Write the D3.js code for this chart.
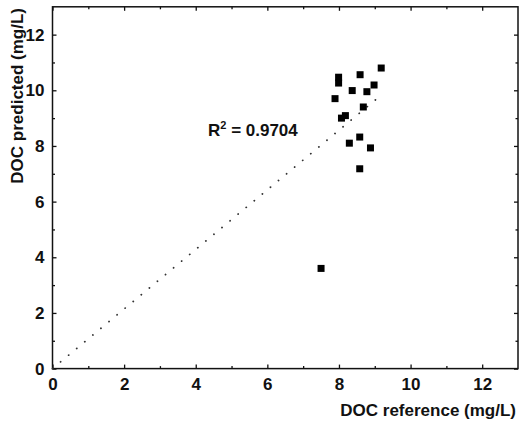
<!DOCTYPE html>
<html>
<head>
<meta charset="utf-8">
<script src="https://cdn.jsdelivr.net/npm/d3@7"></script>
<style>
  html, body { margin: 0; padding: 0; background: #fff; }
  text { font-family: Arial, "Liberation Sans", sans-serif; font-weight: bold; fill: #111; }
</style>
</head>
<body>
<svg id="chart" width="520" height="423"></svg>
<script>
// Measured vs predicted DOC (mg/L)
const docReference = [9.18, 8.59, 7.99, 7.99, 8.37, 8.78, 8.98, 7.89, 8.68, 8.18, 8.07, 8.58, 8.29, 8.88, 8.58, 7.50];
const docPredicted = [10.80, 10.56, 10.47, 10.26, 9.99, 9.95, 10.19, 9.70, 9.40, 9.09, 9.00, 8.32, 8.10, 7.93, 7.18, 3.60];
// Fitted trend line end points (x, y)
const fitX = [0, 9.06];
const fitY = [0, 9.70];
const majorTicks = [0, 2, 4, 6, 8, 10, 12];
const minorTicks = [1, 3, 5, 7, 9, 11];
const r2Label = "0.9704";

const svg = d3.select("#chart");
const plotLeft = 52.5, plotRight = 518, plotTop = 6.8, plotBottom = 368.6;

const x = d3.scaleLinear().domain([0, 13]).range([plotLeft, plotRight]);
const y = d3.scaleLinear().domain([0, 13]).range([plotBottom, plotTop]);

const g = svg.append("g");

// Axes: major ticks labelled, all ticks pointing inward
function styleAxis(sel) {
  sel.select(".domain").remove();
  sel.selectAll("line").attr("stroke", "#111").attr("stroke-width", 1.3);
  sel.selectAll("text").attr("font-size", 17).attr("font-weight", "bold")
     .attr("font-family", "Arial, 'Liberation Sans', sans-serif").attr("fill", "#111");
}

function addAxis(axisFn, scale, pos, ticks, size, labelled) {
  const isX = (axisFn === d3.axisBottom || axisFn === d3.axisTop);
  const ax = axisFn(scale).tickValues(ticks).tickSizeInner(-size).tickSizeOuter(0);
  if (labelled) ax.tickPadding(isX ? 9 : 8).tickFormat(d3.format("d"));
  else ax.tickFormat("");
  const sel = g.append("g")
    .attr("transform", isX ? `translate(0,${pos})` : `translate(${pos},0)`)
    .call(ax);
  styleAxis(sel);
}

addAxis(d3.axisBottom, x, plotBottom, majorTicks, 4, true);
addAxis(d3.axisBottom, x, plotBottom, minorTicks, 2.5, false);
addAxis(d3.axisLeft, y, plotLeft, majorTicks, 4, true);
addAxis(d3.axisLeft, y, plotLeft, minorTicks, 2.5, false);
addAxis(d3.axisTop, x, plotTop, majorTicks, 4, false);
addAxis(d3.axisTop, x, plotTop, minorTicks, 2.5, false);
addAxis(d3.axisRight, y, plotRight, majorTicks, 4, false);
addAxis(d3.axisRight, y, plotRight, minorTicks, 2.5, false);

// Plot frame
g.append("rect")
  .attr("x", plotLeft).attr("y", plotTop)
  .attr("width", plotRight - plotLeft).attr("height", plotBottom - plotTop)
  .attr("fill", "none").attr("stroke", "#111").attr("stroke-width", 1.5);

// Dotted fit line
g.append("line")
  .attr("x1", x(fitX[0])).attr("y1", y(fitY[0]))
  .attr("x2", x(fitX[1])).attr("y2", y(fitY[1]))
  .attr("stroke", "#333").attr("stroke-width", 1.8)
  .attr("stroke-linecap", "round")
  .attr("stroke-dasharray", "0.1,10.4");

// Data points
const pts = docReference.map((d, i) => ({ x: d, y: docPredicted[i] }));
const s = 7;
g.selectAll("rect.pt").data(pts).enter().append("rect")
  .attr("class", "pt")
  .attr("x", d => x(d.x) - s / 2).attr("y", d => y(d.y) - s / 2)
  .attr("width", s).attr("height", s)
  .attr("fill", "#000");

// R² annotation
const r2 = g.append("text").attr("x", 208).attr("y", 136).attr("font-size", 17);
r2.append("tspan").text("R");
r2.append("tspan").attr("font-size", 11).attr("dy", -7).text("2");
r2.append("tspan").attr("dy", 7).text(" = " + r2Label);

// Axis titles
g.append("text")
  .attr("x", 516).attr("y", 416)
  .attr("text-anchor", "end").attr("font-size", 17)
  .text("DOC reference (mg/L)");

g.append("text")
  .attr("transform", "translate(23,8) rotate(-90)")
  .attr("text-anchor", "end").attr("font-size", 17)
  .text("DOC predicted (mg/L)");
</script>
</body>
</html>
